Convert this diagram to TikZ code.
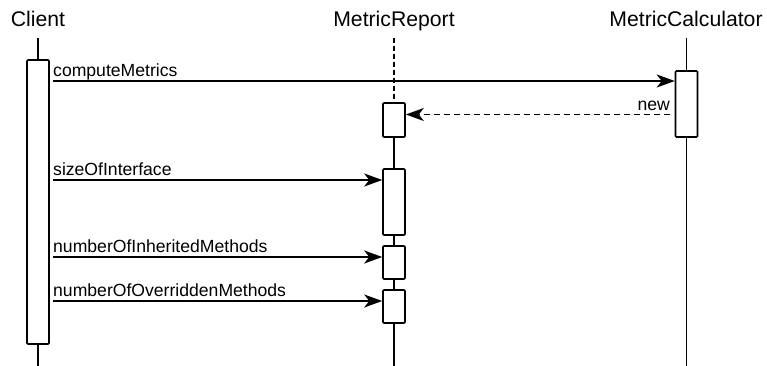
\documentclass[tikz,border=0pt]{standalone}
\usepackage{fontspec}
\setmainfont{Liberation Sans}
\usetikzlibrary{arrows.meta}
\begin{document}
\begin{tikzpicture}[x=1pt,y=-1pt,
  act/.style={draw,fill=white,line width=1.6pt,rounded corners=1pt,
    minimum width=22pt,inner sep=0pt},
  life/.style={line width=1.6pt},
  msg/.style={line width=1.6pt,-{Stealth[length=18pt,width=13pt,inset=5pt]}},
  reply/.style={msg,dash pattern=on 6pt off 4pt},
  lbl/.style={font=\fontsize{17.6}{17.6}\selectfont,inner sep=0pt},
  head/.style={font=\fontsize{21.2}{21.2}\selectfont,inner sep=0pt,anchor=base}]
\useasboundingbox (0,0) rectangle (767,366);

% participants
\node[head] (hClient) at (38,27) {Client};
\node[head] (hReport) at (394,27) {MetricReport};
\node[head] (hCalc) at (686,27) {MetricCalculator};

% activation bars
\node[act,minimum height=284pt] (aClient) at (38,202) {};
\node[act,minimum height=66pt] (aCalc) at (686.5,104) {};
\node[act,minimum height=34pt] (aR1) at (394,120) {};
\node[act,minimum height=66pt] (aR2) at (394,202) {};
\node[act,minimum height=33pt] (aR3) at (394,262.5) {};
\node[act,minimum height=33pt] (aR4) at (394,306.5) {};

% lifeline ends
\coordinate (cTop) at (38,38);
\coordinate (cBot) at (38,366);
\coordinate (rTop) at (394,38);
\coordinate (rBot) at (394,366);
\coordinate (kTop) at (686.5,38);
\coordinate (kBot) at (686.5,366);

% lifelines
\draw[life] (cTop) -- (aClient.north);
\draw[life] (aClient.south) -- (cBot);
\draw[life,dash pattern=on 5pt off 3pt] (rTop) -- (aR1.north);
\draw[life] (aR1.south) -- (aR2.north);
\draw[life] (aR2.south) -- (aR3.north);
\draw[life] (aR3.south) -- (aR4.north);
\draw[life] (aR4.south) -- (rBot);
\draw[life] (kTop) -- (aCalc.north);
\draw[life] (aCalc.south) -- (kBot);

% message start points
\coordinate (m1) at (53,81);
\coordinate (m2) at (670,114.5);
\coordinate (m3) at (53,180);
\coordinate (m4) at (53,257);
\coordinate (m5) at (53,301);

% messages
\draw[msg] (m1) -- (aCalc.west |- m1);
\node[lbl,anchor=base west] (l1) at (53,76.5) {computeMetrics};
\draw[reply] (m2) -- (aR1.east |- m2);
\node[lbl,anchor=base east] (l2) at (670,110.5) {new};
\draw[msg] (m3) -- (aR2.west |- m3);
\node[lbl,anchor=base west] (l3) at (53,175.5) {sizeOfInterface};
\draw[msg] (m4) -- (aR3.west |- m4);
\node[lbl,anchor=base west] (l4) at (53,252.5) {numberOfInheritedMethods};
\draw[msg] (m5) -- (aR4.west |- m5);
\node[lbl,anchor=base west] (l5) at (53,296.5) {numberOfOverriddenMethods};
\end{tikzpicture}
\end{document}
